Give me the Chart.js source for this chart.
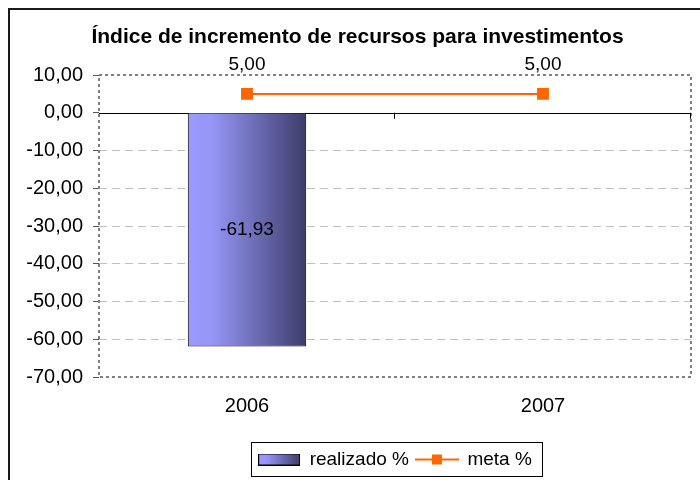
<!DOCTYPE html>
<html>
<head>
<meta charset="utf-8">
<script src="https://cdn.jsdelivr.net/npm/chart.js@4/dist/chart.umd.min.js"></script>
<style>
  html, body { margin: 0; padding: 0; background: #fff; }
  #wrap { width: 700px; height: 480px; }
</style>
</head>
<body>
<div id="wrap"><canvas id="grafico"></canvas></div>
<script>
const anos = ['2006', '2007'];
const realizado = [-61.93, null];
const meta = [5.00, 5.00];
const yTicks = [10, 0, -10, -20, -30, -40, -50, -60, -70];

const FONT = "'Liberation Sans', Arial, sans-serif";
const fmt = (v) => v.toFixed(2).replace('.', ',');

function barGradient(ctx, x0, x1) {
    const g = ctx.createLinearGradient(x0, 0, x1, 0);
    g.addColorStop(0, '#9999ff');
    g.addColorStop(0.2, '#9696f8');
    g.addColorStop(1, '#3d3d6a');
    return g;
}

// legend swatches
const barSwatch = document.createElement('canvas');
barSwatch.width = 42; barSwatch.height = 12;
(function () {
    const c = barSwatch.getContext('2d');
    c.fillStyle = barGradient(c, 0, 42);
    c.fillRect(0, 0, 42, 12);
    c.strokeStyle = '#000';
    c.lineWidth = 1;
    c.strokeRect(0.5, 0.5, 41, 11);
})();

const lineSwatch = document.createElement('canvas');
lineSwatch.width = 44; lineSwatch.height = 12;
(function () {
    const c = lineSwatch.getContext('2d');
    c.strokeStyle = '#ff6600';
    c.lineWidth = 2;
    c.beginPath(); c.moveTo(0, 6); c.lineTo(44, 6); c.stroke();
    c.fillStyle = '#ff6600';
    c.fillRect(17, 1, 10, 10);
})();

const excelFrame = {
    id: 'excelFrame',
    beforeDatasetsDraw(chart) {
	const {ctx, chartArea: a, scales: {x, y}} = chart;
	const y0 = y.getPixelForValue(0);
	ctx.save();
	// plot area dotted border
	ctx.strokeStyle = '#808080';
	ctx.lineWidth = 2;
	ctx.setLineDash([3, 3]);
	ctx.strokeRect(a.left, a.top, a.right - a.left, a.bottom - a.top);
	// zero line with category ticks
	ctx.setLineDash([]);
	ctx.strokeStyle = '#000';
	ctx.lineWidth = 1;
	ctx.beginPath();
	ctx.moveTo(a.left, Math.round(y0) + 0.5);
	ctx.lineTo(a.right, Math.round(y0) + 0.5);
	const half = x.width / anos.length / 2;
	anos.forEach((_, i) => {
	    const bx = Math.round(x.getPixelForValue(i) + half) - 0.5;
	    ctx.moveTo(bx, y0);
	    ctx.lineTo(bx, y0 + 6);
	});
	ctx.stroke();
	ctx.restore();
    },
    afterDatasetsDraw(chart) {
	const {ctx} = chart;
	ctx.save();
	ctx.fillStyle = '#000';
	ctx.font = '19px ' + FONT;
	ctx.textAlign = 'center';
	ctx.textBaseline = 'middle';
	chart.getDatasetMeta(0).data.forEach((el, i) => {
	    if (realizado[i] == null) return;
	    ctx.fillText(fmt(realizado[i]), el.x, (el.y + el.base) / 2);
	});
	chart.getDatasetMeta(1).data.forEach((el, i) => {
	    ctx.fillText(fmt(meta[i]), el.x, el.y - 29);
	});
	ctx.restore();
    },
    afterDraw(chart) {
	const {ctx, legend} = chart;
	ctx.save();
	// legend box
	const hb = legend.legendHitBoxes;
	if (hb && hb.length) {
	    const last = hb[hb.length - 1];
	    const l = Math.round(hb[0].left - 7) + 0.5;
	    const r = Math.round(last.left + last.width + 10) + 0.5;
	    ctx.strokeStyle = '#000';
	    ctx.lineWidth = 1;
	    ctx.strokeRect(l, Math.round(legend.top) - 0.5, r - l, 34);
	}
	// chart outer border (left and top only visible)
	ctx.strokeStyle = '#1a1a1a';
	ctx.lineWidth = 2;
	ctx.beginPath();
	ctx.moveTo(9, 480);
	ctx.lineTo(9, 9);
	ctx.lineTo(700, 9);
	ctx.stroke();
	ctx.restore();
    }
};

new Chart(document.getElementById('grafico'), {
    type: 'bar',
    data: {
	labels: anos,
	datasets: [{
	    type: 'bar',
	    label: 'realizado %',
	    data: realizado,
	    backgroundColor: (c) => {
		const chart = c.chart;
		const x = chart.scales.x;
		if (!chart.chartArea || !x || c.dataIndex === undefined) return '#9999ff';
		const cx = x.getPixelForValue(c.dataIndex);
		const half = x.width / anos.length * 0.4 / 2;
		return barGradient(chart.ctx, cx - half, cx + half);
	    },
	    borderColor: '#000',
	    borderWidth: 1,
	    barPercentage: 0.4,
	    categoryPercentage: 1,
	    order: 2
	}, {
	    type: 'line',
	    label: 'meta %',
	    data: meta,
	    borderColor: '#ff6600',
	    backgroundColor: '#ff6600',
	    borderWidth: 2,
	    pointStyle: 'rect',
	    pointRadius: 7,
	    pointHoverRadius: 7,
	    order: 1
	}]
    },
    options: {
	responsive: true,
	maintainAspectRatio: false,
	animation: false,
	layout: { padding: { left: 23, right: 8, top: 10, bottom: 1 } },
	scales: {
	    x: {
		offset: true,
		grid: { display: false },
		border: { display: false },
		ticks: { color: '#000', font: { family: FONT, size: 20 }, padding: 9 },
		afterFit: (s) => { s.height = 66; }
	    },
	    y: {
		min: -70,
		max: 10,
		afterBuildTicks: (s) => { s.ticks = yTicks.map(v => ({value: v})); },
		ticks: {
		    color: '#000',
		    font: { family: FONT, size: 20 },
		    padding: 10,
		    callback: (v) => fmt(v)
		},
		grid: {
		    color: (c) => ([10, 0, -70].includes(c.tick && c.tick.value) ? 'rgba(0,0,0,0)' : '#c0c0c0'),
		    tickColor: '#555',
		    tickLength: 6,
		    lineWidth: 1
		},
		border: { display: false, dash: [8, 5] },
		afterFit: (s) => { s.width = 76; }
	    }
	},
	plugins: {
	    title: {
		display: true,
		text: 'Índice de incremento de recursos para investimentos',
		color: '#000',
		font: { family: FONT, size: 21, weight: 'bold' },
		padding: { top: 14.4, bottom: 25.4 }
	    },
	    legend: {
		position: 'bottom',
		fullSize: false,
		labels: {
		    color: '#000',
		    font: { family: FONT, size: 19 },
		    usePointStyle: true,
		    pointStyleWidth: 42,
		    boxHeight: 12,
		    padding: 7,
		    generateLabels: () => [
			{ text: 'realizado %', pointStyle: barSwatch, datasetIndex: 0, hidden: false, lineWidth: 0 },
			{ text: 'meta %', pointStyle: lineSwatch, datasetIndex: 1, hidden: false, lineWidth: 0 }
		    ]
		}
	    },
	    tooltip: { enabled: false }
	}
    },
    plugins: [excelFrame]
});
</script>
</body>
</html>
